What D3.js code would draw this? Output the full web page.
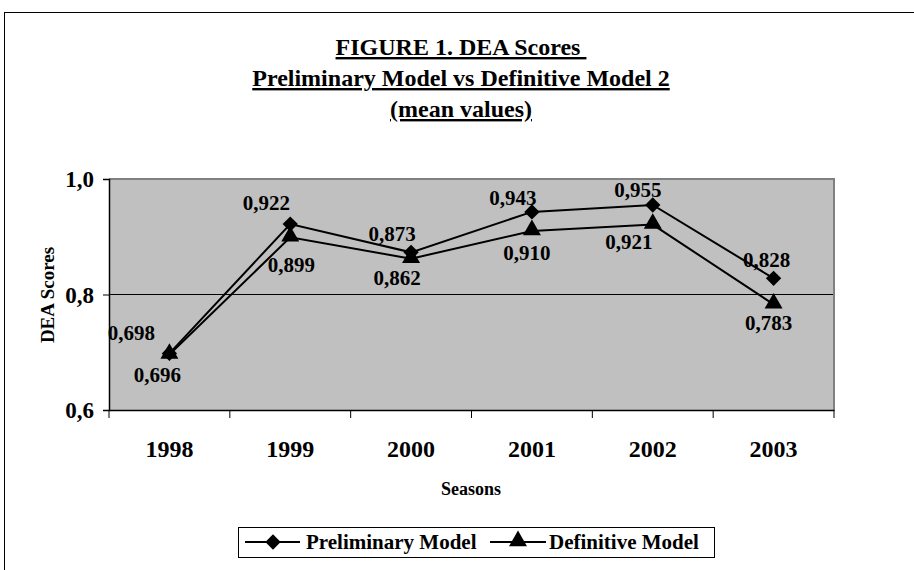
<!DOCTYPE html>
<html><head><meta charset="utf-8">
<script src="https://cdn.jsdelivr.net/npm/d3@7"></script>
<style>html,body{margin:0;padding:0;background:#fff}svg{display:block}text{font-family:"Liberation Serif","Times New Roman",serif;font-weight:bold;fill:#000}</style>
</head><body>
<script>
const seasons = ["1998","1999","2000","2001","2002","2003"];
const preliminary = [0.698,0.922,0.873,0.943,0.955,0.828];
const definitive = [0.696,0.899,0.862,0.910,0.921,0.783];
const yTicks = [0.6,0.8,1.0];
const titleLines = ["FIGURE 1. DEA Scores ","Preliminary Model vs Definitive Model 2","(mean values)"];
// label offsets (dx, dy) relative to the point
const prelimLabelOff = [[-38,-21],[-24,-21],[-19,-19],[-19,-14],[-15,-15],[-7,-19]];
const defLabelOff = [[-12,20],[1,27],[-14,19],[-5,22],[-24,17],[-5,18]];

const W=914,H=570;
const svg=d3.select("body").append("svg").attr("width",W).attr("height",H);
svg.append("rect").attr("x",4.5).attr("y",12.5).attr("width",W+10).attr("height",H+10).attr("fill","#fff").attr("stroke","#000").attr("stroke-width",1);

function txt(g,x,y,s,size,anchor){
  return g.append("text").attr("x",x).attr("y",y).attr("dy","0.35em").attr("text-anchor",anchor||"middle")
    .style("font-size",size+"px").text(s);
}

// title
const tBase=[55,86,117];
titleLines.forEach((l,i)=>{
  svg.append("text").attr("x",461).attr("y",tBase[i]).attr("text-anchor","middle")
    .style("font-size","24px").style("text-decoration","underline").style("white-space","pre").text(l);
});

const L=109,R=834,T=179,B=410;
const x=d3.scaleBand().domain(seasons).range([L,R]).padding(0);
const y=d3.scaleLinear().domain([0.6,1.0]).range([B,T]);
const cx=d=>x(d)+x.bandwidth()/2;

svg.append("rect").attr("x",L).attr("y",T).attr("width",R-L).attr("height",B-T).attr("fill","#c0c0c0");
svg.selectAll(".grid").data(yTicks.filter(v=>v>0.6&&v<1.0)).enter().append("line")
  .attr("x1",L).attr("x2",R).attr("y1",d=>y(d)).attr("y2",d=>y(d)).attr("stroke","#000").attr("stroke-width",1);
svg.append("path").attr("d",`M${L},${T}H${R}V${B}`).attr("fill","none").attr("stroke","#808080").attr("stroke-width",2);

// y axis
const yAxis=d3.axisLeft(y).tickValues(yTicks).tickSize(6).tickFormat("");
const ga=svg.append("g").attr("transform",`translate(${L},0)`).call(yAxis);
ga.select(".domain").attr("stroke","#000").attr("stroke-width",1.5);
ga.selectAll(".tick line").attr("stroke","#000");
yTicks.forEach(v=>txt(svg,94,y(v),d3.format(".1f")(v).replace(".",","),23,"end"));

// x axis
const gx=svg.append("g").attr("transform",`translate(0,${B})`)
  .call(d3.axisBottom(x).tickSize(0).tickFormat(""));
gx.select(".domain").attr("stroke","#000").attr("stroke-width",1.5);
gx.selectAll(".tick").remove();
const bounds=seasons.map(s=>x(s)).concat([x(seasons[seasons.length-1])+x.bandwidth()]);
svg.selectAll(".xt").data(bounds).enter().append("line").attr("x1",d=>d).attr("x2",d=>d).attr("y1",B).attr("y2",B+8).attr("stroke","#000");
seasons.forEach(s=>txt(svg,cx(s),449,s,24));

txt(svg,471,489,"Seasons",18);
svg.append("text").attr("transform","translate(47,295) rotate(-90)").attr("dy","0.35em")
  .attr("text-anchor","middle").style("font-size","19px").text("DEA Scores");

// lines
const line=d3.line().x((d,i)=>cx(seasons[i])).y(d=>y(d));
[preliminary,definitive].forEach(arr=>{
  svg.append("path").attr("d",line(arr)).attr("fill","none").attr("stroke","#000").attr("stroke-width",2);
});
const diamond=d3.symbol().type(d3.symbolDiamond2).size(150);
const tri=d3.symbol().type(d3.symbolTriangle).size(140);
svg.selectAll(".pm").data(preliminary).enter().append("path")
  .attr("transform",(d,i)=>`translate(${cx(seasons[i])},${y(d)})`).attr("d",diamond).attr("fill","#000");
svg.selectAll(".dm").data(definitive).enter().append("path")
  .attr("transform",(d,i)=>`translate(${cx(seasons[i])},${y(d)-1})`).attr("d",tri).attr("fill","#000");

const fmt=v=>d3.format(".3f")(v).replace(".",",");
preliminary.forEach((v,i)=>txt(svg,cx(seasons[i])+prelimLabelOff[i][0],y(v)+prelimLabelOff[i][1],fmt(v),21));
definitive.forEach((v,i)=>txt(svg,cx(seasons[i])+defLabelOff[i][0],y(v)+defLabelOff[i][1],fmt(v),21));

// legend
svg.append("rect").attr("x",238.5).attr("y",527.5).attr("width",476).attr("height",30).attr("fill","#fff").attr("stroke","#000");
const legY=542;
svg.append("line").attr("x1",245).attr("x2",300).attr("y1",legY).attr("y2",legY).attr("stroke","#000").attr("stroke-width",2);
svg.append("path").attr("transform",`translate(273,${legY})`).attr("d",diamond).attr("fill","#000");
txt(svg,306,legY,"Preliminary Model",21,"start");
svg.append("line").attr("x1",490).attr("x2",546).attr("y1",legY).attr("y2",legY).attr("stroke","#000").attr("stroke-width",2);
svg.append("path").attr("transform",`translate(518,${legY-1})`).attr("d",tri).attr("fill","#000");
txt(svg,549,legY,"Definitive Model",21,"start");
</script>
</body></html>
